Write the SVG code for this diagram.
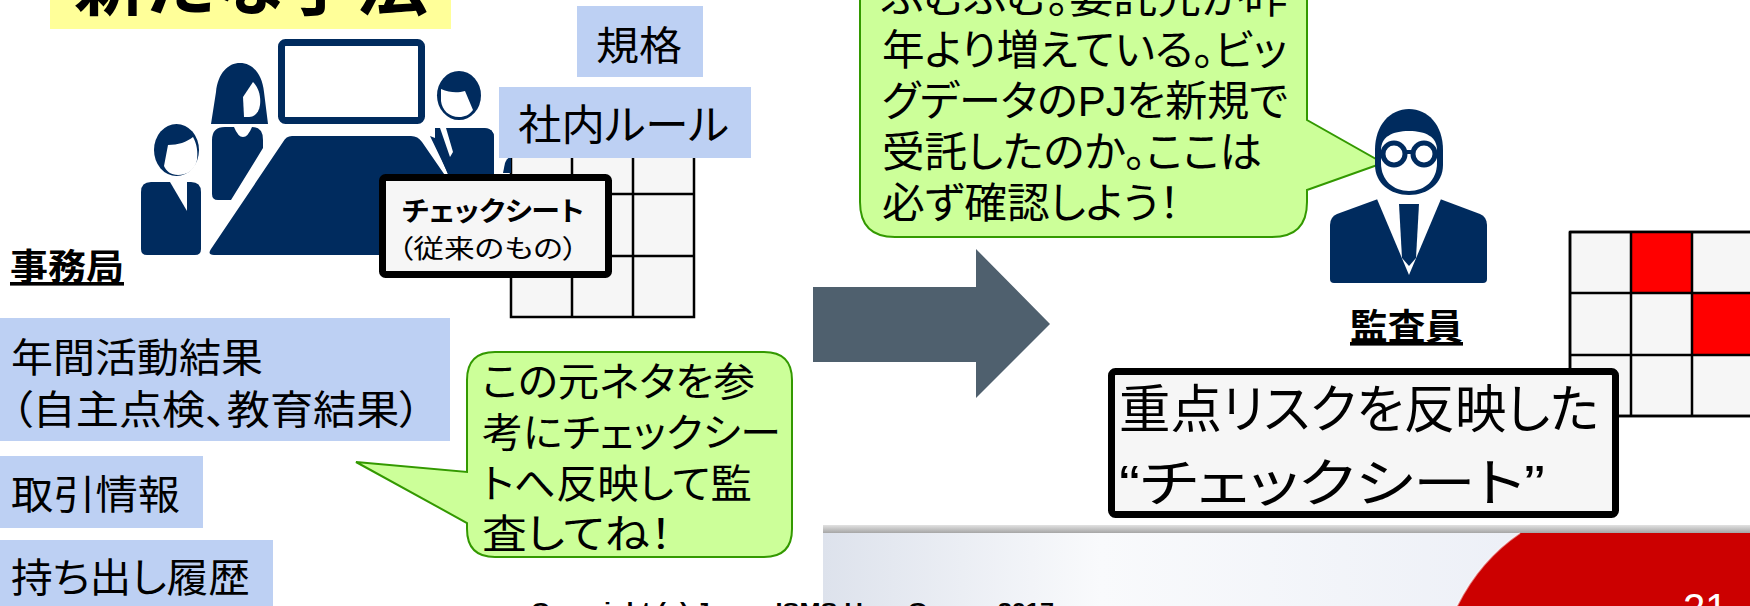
<svg xmlns="http://www.w3.org/2000/svg" width="1750" height="606" viewBox="0 0 1750 606">
  <style>
    .jp { font-family: "Liberation Sans", "Noto Sans CJK JP", sans-serif; font-feature-settings: "palt"; fill: #000; }
    .b { font-weight: bold; }
    .navy { fill: #002b5e; }
    .wht { fill: #fff; }
    .tag { fill: #bdd0f3; }
    .sheet { fill: #f6f6f6; stroke: #000; stroke-width: 2.5; }
    .gline { stroke: #000; stroke-width: 2.5; fill: none; }
    .hot { fill: #ff0000; }
    .bubble { fill: #ccff99; stroke: #339900; stroke-width: 2; }
    .frame { fill: #f6f6f6; stroke: #000; stroke-width: 7; }
  </style>
  <defs>
    <linearGradient id="bandGrad" x1="0" y1="0" x2="0" y2="1">
      <stop offset="0" stop-color="#e2e2e2"/>
      <stop offset="1" stop-color="#a6a6a6"/>
    </linearGradient>
    <linearGradient id="footGrad" x1="0" y1="0" x2="1" y2="0">
      <stop offset="0" stop-color="#dde2ec"/>
      <stop offset="0.3" stop-color="#f9fafc"/>
      <stop offset="1" stop-color="#e6eaf4"/>
    </linearGradient>
  </defs>

  <rect width="1750" height="606" fill="#fff"/>

  <!-- footer band -->
  <g id="footer">
    <rect x="823" y="533" width="927" height="73" fill="url(#footGrad)"/>
    <rect x="823" y="525" width="927" height="8" fill="url(#bandGrad)"/>
    <path d="M1520,533 L1750,533 L1750,606 L1457,606 Q1480,560 1520,533 Z" fill="#cc0000"/>
    <path d="M1520,533 Q1480,560 1457,606" fill="none" stroke="#fff" stroke-opacity="0.5" stroke-width="2"/>
    <text x="1683" y="622" font-family="Liberation Sans, sans-serif" font-size="40" fill="#fff">21</text>
    <text x="531" y="618" font-family="Liberation Sans, sans-serif" font-size="22" font-weight="bold" textLength="523" lengthAdjust="spacingAndGlyphs">Copyright (c) Japan ISMS User Group, 2017</text>
  </g>

  <!-- title -->
  <g id="title">
    <rect x="50" y="-10" width="401" height="39" fill="#ffff99"/>
    <text class="jp b" x="74" y="10" font-size="70" textLength="354" lengthAdjust="spacingAndGlyphs">新たな手法</text>
  </g>

  <!-- existing check sheet grid -->
  <g id="old-grid">
    <rect class="sheet" x="511" y="133" width="183" height="184"/>
    <path class="gline" d="M572,133 V317 M633,133 V317 M511,194 H694 M511,256 H694"/>
  </g>

  <!-- secretariat meeting icon -->
  <g id="meeting">
    <rect x="281.5" y="42.5" width="140" height="78" rx="4" fill="#fff" stroke="#002b5e" stroke-width="7"/>
    <path class="navy" d="M292,136 L411,136 Q418,136 422,142 L500,255 L214,255 Q207,255 211,249 L283,142 Q286,136 292,136 Z"/>
    <!-- woman -->
    <path class="navy" d="M211,124 L216,92 C218,73 228,63 240,63 C252,63 262,73 264,92 L268,124 Z"/>
    <path class="wht" d="M243,97 L253,82 C259,88 261,97 260,105 C259,112 255,117 249,117 L244,117 Z"/>
    <path class="navy" d="M212,140 Q212,127 225,127 L234,127 Q238,137 243,137 Q248,137 252,127 Q263,127 263,140 L263,148 L231,200 L218,200 Q212,200 212,194 Z"/>
    <!-- man, front left -->
    <ellipse class="navy" cx="176.5" cy="150" rx="22.5" ry="26"/>
    <path class="wht" d="M168,145 C178,145 187,142 193,137 C197,144 198,152 197,160 C195,170 187,175 178,175 C171,175 166,171 164,166 Z"/>
    <path class="navy" d="M141,192 Q141,182 151,182 L191,182 Q201,182 201,192 L201,249 Q201,255 195,255 L147,255 Q141,255 141,249 Z"/>
    <polygon class="wht" points="170,182 187,182 187,211"/>
    <!-- man, back right -->
    <ellipse class="navy" cx="459" cy="95.5" rx="22" ry="24.5"/>
    <path class="wht" d="M441,89 C450,93 458,93 465,91 L473,110 C469,115 465,117 459,117 C449,117 442,110 441,101 Z"/>
    <path class="navy" d="M435,138 Q435,128 445,128 L484,128 Q494,128 494,138 L494,240 L480,240 L430,136 Z M435,138 L435,143 L430,136 Z"/>
    <path class="navy" d="M435,128 L484,128 Q494,128 494,138 L494,240 L475,240 L435,143 Z"/>
    <polygon class="wht" points="440,128 446,128 453,152 450,157"/>
    <path class="navy" d="M503,173 L505,163 Q507,158 511,157 L511,173 Z"/>
  </g>

  <g id="secretariat-label">
    <text class="jp b" x="10" y="280" font-size="36" text-decoration="underline" textLength="114" lengthAdjust="spacingAndGlyphs">事務局</text>
  </g>

  <g id="tag-kikaku">
    <rect class="tag" x="577" y="6" width="126" height="71"/>
    <text class="jp" x="596" y="60" font-size="40" textLength="86" lengthAdjust="spacingAndGlyphs">規格</text>
  </g>
  <g id="tag-rule">
    <rect class="tag" x="499" y="87" width="252" height="71"/>
    <text class="jp" x="518" y="140" font-size="42" textLength="211" lengthAdjust="spacingAndGlyphs">社内ルール</text>
  </g>

  <g id="old-sheet">
    <rect class="frame" x="382.5" y="177.5" width="226" height="97" rx="3"/>
    <text class="jp b" x="402" y="221" font-size="27" textLength="182" lengthAdjust="spacingAndGlyphs">チェックシート</text>
    <text class="jp" x="398" y="258" font-size="26" textLength="180" lengthAdjust="spacingAndGlyphs">（従来のもの）</text>
  </g>

  <g id="tag-activity">
    <rect class="tag" x="0" y="318" width="450" height="123"/>
    <text class="jp" x="11" y="372" font-size="40" textLength="252" lengthAdjust="spacingAndGlyphs">年間活動結果</text>
    <text class="jp" x="11" y="424" font-size="40" textLength="410" lengthAdjust="spacingAndGlyphs">（自主点検、教育結果）</text>
  </g>
  <g id="tag-trade">
    <rect class="tag" x="0" y="456" width="203" height="72"/>
    <text class="jp" x="11" y="509" font-size="40" textLength="169" lengthAdjust="spacingAndGlyphs">取引情報</text>
  </g>
  <g id="tag-carryout">
    <rect class="tag" x="0" y="540" width="273" height="70"/>
    <text class="jp" x="11" y="592" font-size="40" textLength="239" lengthAdjust="spacingAndGlyphs">持ち出し履歴</text>
  </g>

  <g id="bubble-secretariat">
    <path class="bubble" d="M495,352 L764,352 Q792,352 792,380 L792,529 Q792,557 764,557 L495,557 Q467,557 467,529 L467,523 L356,462 L467,472 L467,380 Q467,352 495,352 Z"/>
    <text class="jp" x="482" y="396" font-size="40" textLength="273" lengthAdjust="spacingAndGlyphs">この元ネタを参</text>
    <text class="jp" x="482" y="447" font-size="40" textLength="299" lengthAdjust="spacingAndGlyphs">考にチェックシー</text>
    <text class="jp" x="482" y="498" font-size="40" textLength="270" lengthAdjust="spacingAndGlyphs">トへ反映して監</text>
    <text class="jp" x="482" y="548" font-size="40" textLength="190" lengthAdjust="spacingAndGlyphs">査してね！</text>
  </g>

  <g id="connectors">
    <polygon points="813,287 976,287 976,249 1050,324 976,398 976,362 813,362" fill="#4f606e"/>
  </g>

  <g id="bubble-auditor">
    <path class="bubble" d="M860,-60 L1307,-60 L1307,120 L1383,163 L1307,190 L1307,202 Q1307,237 1272,237 L895,237 Q860,237 860,202 Z"/>
    <text class="jp" x="882" y="13" font-size="42" textLength="406" lengthAdjust="spacingAndGlyphs">ふむふむ。委託先が昨</text>
    <text class="jp" x="882" y="65" font-size="42" textLength="405" lengthAdjust="spacingAndGlyphs">年より増えている。ビッ</text>
    <text class="jp" x="882" y="116" font-size="42" textLength="406" lengthAdjust="spacingAndGlyphs">グデータのPJを新規で</text>
    <text class="jp" x="882" y="167" font-size="42" textLength="380" lengthAdjust="spacingAndGlyphs">受託したのか。ここは</text>
    <text class="jp" x="882" y="218" font-size="42" textLength="298" lengthAdjust="spacingAndGlyphs">必ず確認しよう！</text>
  </g>

  <g id="auditor">
    <path class="navy" d="M1378,199 L1440,199 L1480,214 Q1487,217 1487,225 L1487,279 Q1487,283 1483,283 L1334,283 Q1330,283 1330,279 L1330,225 Q1330,217 1337,214 Z"/>
    <polygon class="wht" points="1377,199 1441,199 1409,275"/>
    <polygon class="navy" points="1399,204 1419,204 1416,258 1409,266 1402,258"/>
    <path class="navy" d="M1375,150 C1375,125 1390,109 1409,109 C1428,109 1443,125 1443,150 L1443,165 C1443,183 1428,195 1409,195 C1390,195 1375,183 1375,165 Z"/>
    <path class="wht" d="M1381,150 C1381,137 1392,131 1409,131 C1426,131 1437,137 1437,150 L1437,163 C1437,180 1425,191 1409,191 C1393,191 1381,180 1381,163 Z"/>
    <circle cx="1394" cy="154" r="11" fill="#fff" stroke="#002b5e" stroke-width="5"/>
    <circle cx="1424" cy="154" r="11" fill="#fff" stroke="#002b5e" stroke-width="5"/>
    <line x1="1405" y1="152" x2="1413" y2="152" stroke="#002b5e" stroke-width="4"/>
  </g>

  <g id="auditor-label">
    <text class="jp b" x="1350" y="340" font-size="36" text-decoration="underline" textLength="113" lengthAdjust="spacingAndGlyphs">監査員</text>
  </g>

  <g id="new-grid">
    <rect class="sheet" x="1570" y="232" width="190" height="184"/>
    <rect class="hot" x="1631" y="232" width="61" height="61"/>
    <rect class="hot" x="1692" y="293" width="61" height="62"/>
    <path class="gline" d="M1570,232 H1760 M1570,232 V416 M1631,232 V416 M1692,232 V416 M1753,232 V416 M1570,293 H1760 M1570,355 H1760 M1570,416 H1760"/>
  </g>

  <g id="new-sheet">
    <rect class="frame" x="1111.5" y="371.5" width="504" height="143" rx="4"/>
    <text class="jp" x="1119" y="428" font-size="52" textLength="480" lengthAdjust="spacingAndGlyphs">重点リスクを反映した</text>
    <text class="jp" x="1119" y="502" font-size="52" textLength="426" lengthAdjust="spacingAndGlyphs">“チェックシート”</text>
  </g>
</svg>
